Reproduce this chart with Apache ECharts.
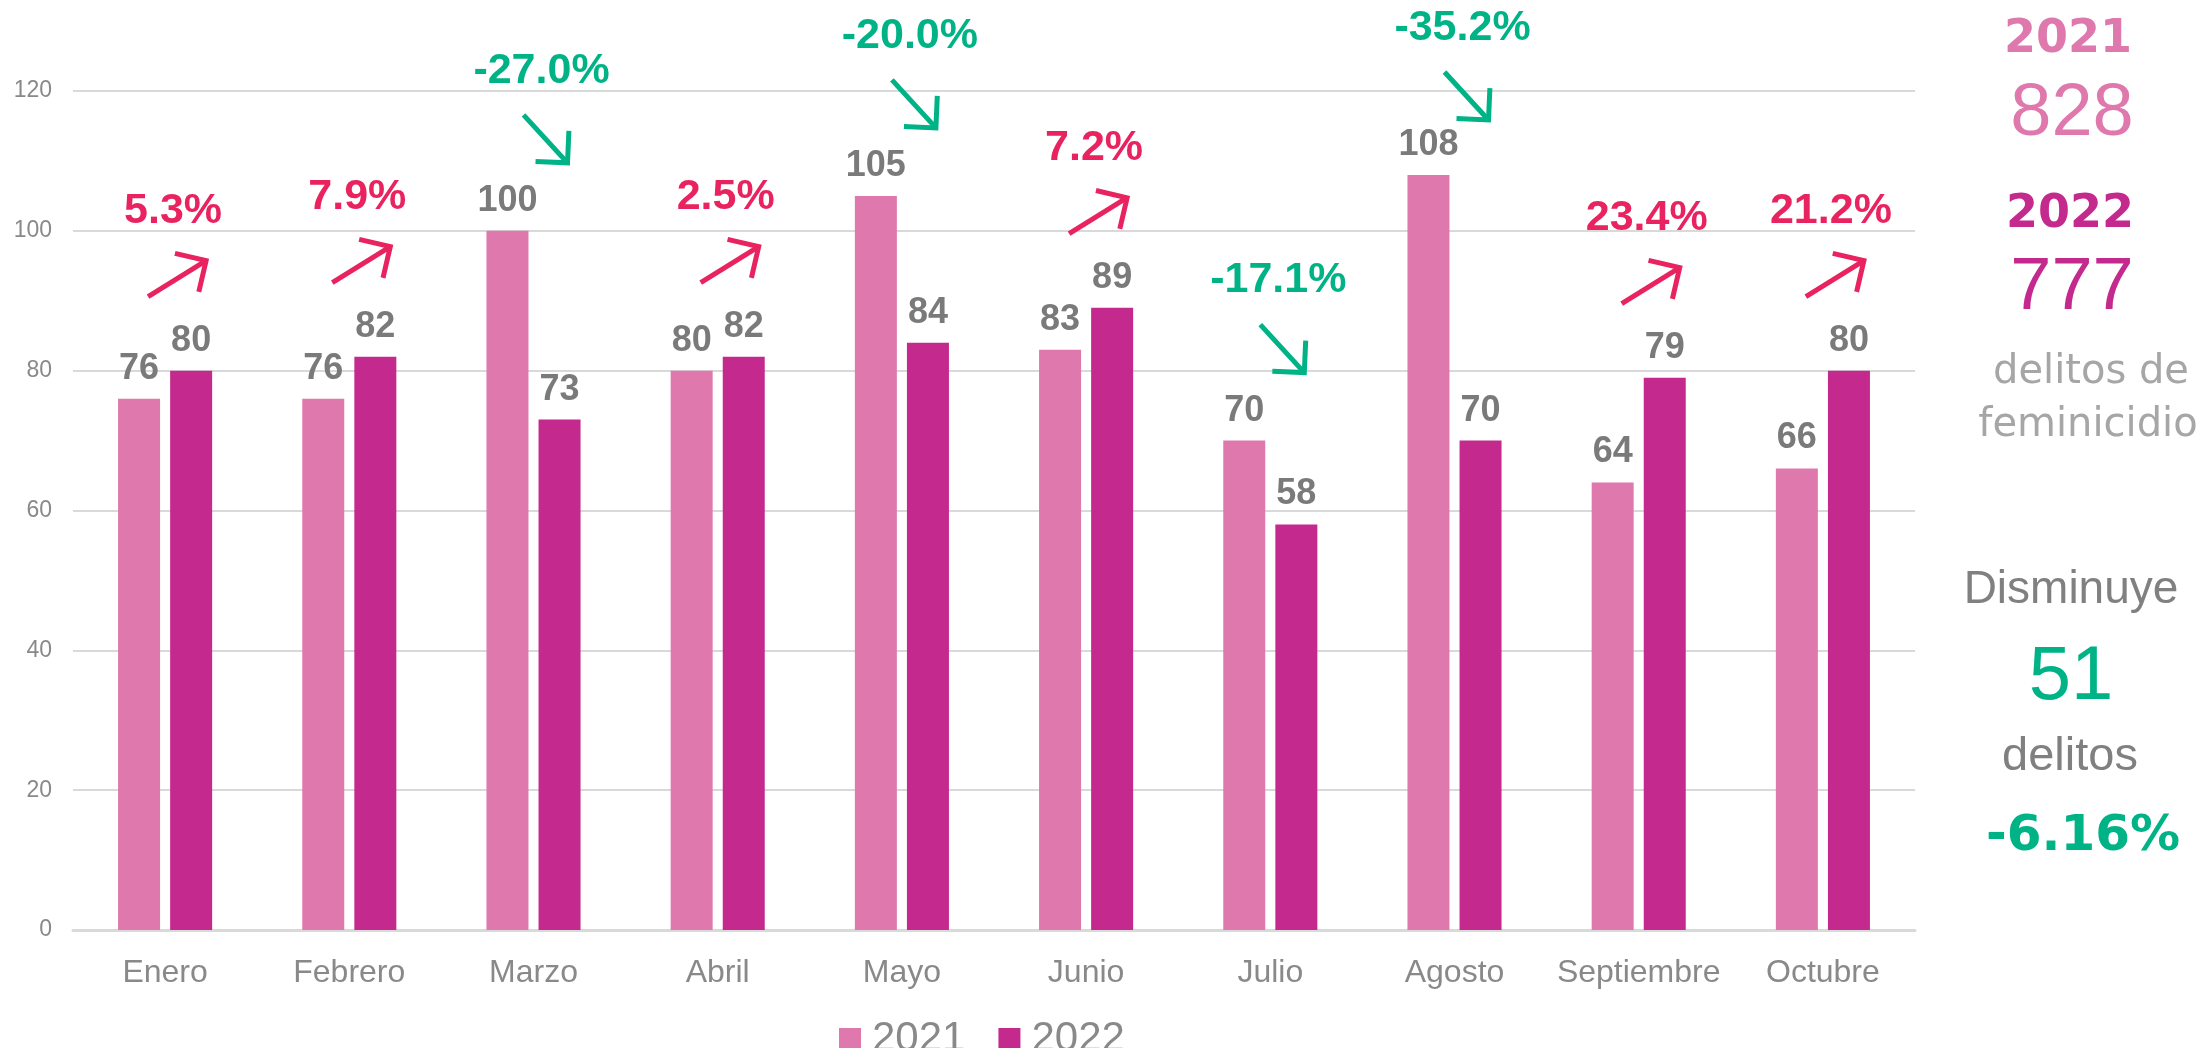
<!DOCTYPE html>
<html>
<head>
<meta charset="utf-8">
<script src="https://cdn.jsdelivr.net/npm/echarts@6/dist/echarts.min.js"></script>
<style>
	html, body { margin: 0; padding: 0; background: #fff; }
	#feminicidio_chart { width: 2207px; height: 1048px; }
</style>
</head>
<body>
<div id="feminicidio_chart"></div>
<script>
// datos
var meses = ['Enero', 'Febrero', 'Marzo', 'Abril', 'Mayo', 'Junio', 'Julio', 'Agosto', 'Septiembre', 'Octubre'];
var delitos2021 = [76, 76, 100, 80, 105, 83, 70, 108, 64, 66];
var delitos2022 = [80, 82, 73, 82, 84, 89, 58, 70, 79, 80];
var yTicks = [0, 20, 40, 60, 80, 100, 120];

var COLOR_2021 = '#DF79AD';
var COLOR_2022 = '#C4298E';
var COLOR_SUBE = '#E8235F';
var COLOR_BAJA = '#00B386';
var GRIS = '#898989';

var total2021 = delitos2021.reduce(function(a, b) { return a + b; }, 0);
var total2022 = delitos2022.reduce(function(a, b) { return a + b; }, 0);
var diferencia = total2021 - total2022;
var cambioTotal = (total2022 - total2021) / total2021 * 100;

// variacion mensual
var variacion = [];
for (var i = 0; i < meses.length; i++) {
	var pct = (delitos2022[i] - delitos2021[i]) / delitos2021[i] * 100;
	variacion.push([i, Math.max(delitos2021[i], delitos2022[i]), pct]);
}

var barLabel = {
	show : true,
	position : 'top',
	distance : 12,
	color : '#7a7a7a',
	fontSize : 36,
	fontWeight : 'bold',
	fontFamily : "'Liberation Sans Narrow', 'Arial Narrow', 'Liberation Sans', sans-serif"
};

function flecha(params, api) {
	var top = api.coord([api.value(0), api.value(1)]);
	var pct = api.value(2);
	var sube = pct >= 0;
	var color = sube ? COLOR_SUBE : COLOR_BAJA;
	var tx = top[0] + 8, ty = Math.max(top[1] - 160, 28);
	var ax = tx + 4, ay = ty + 68;
	var dx = sube ? 29 : 22, dy = sube ? -18 : 24;
	var p0 = [ax - dx, ay - dy], p1 = [ax + dx, ay + dy];
	var ang = Math.atan2(p1[1] - p0[1], p1[0] - p0[0]);
	var L = 32, abre = Math.PI / 4;
	var h1 = [p1[0] - L * Math.cos(ang - abre), p1[1] - L * Math.sin(ang - abre)];
	var h2 = [p1[0] - L * Math.cos(ang + abre), p1[1] - L * Math.sin(ang + abre)];
	return {
		type : 'group',
		children : [ {
			type : 'text',
			style : {
				text : pct.toFixed(1) + '%',
				x : tx,
				y : ty,
				fill : color,
				font : "bold 43px 'Liberation Sans', sans-serif",
				align : 'center',
				verticalAlign : 'middle'
			}
		}, {
			type : 'polyline',
			shape : { points : [ p0, p1 ] },
			style : { stroke : color, lineWidth : 5, fill : 'none', lineCap : 'butt' }
		}, {
			type : 'polyline',
			shape : { points : [ h1, p1, h2 ] },
			style : { stroke : color, lineWidth : 5, fill : 'none', lineCap : 'butt', lineJoin : 'miter' }
		} ]
	};
}

function texto(txt, x, y, font, color) {
	return {
		type : 'text',
		x : x,
		y : y,
		silent : true,
		style : {
			text : txt,
			font : font,
			fill : color,
			align : 'center',
			verticalAlign : 'middle'
		}
	};
}

var chart = echarts.init(document.getElementById('feminicidio_chart'));

chart.setOption({
	animation : false,
	grid : {
		left : 73,
		right : 292,
		top : 91,
		bottom : 118
	},
	legend : {
		data : [ '2021', '2022' ],
		left : 834,
		top : 1013,
		itemWidth : 22,
		itemHeight : 22,
		itemGap : 33,
		icon : 'rect',
		textStyle : {
			color : GRIS,
			fontSize : 42,
			fontFamily : "'Liberation Sans', sans-serif",
			padding : [ 0, 0, 0, 6 ]
		}
	},
	xAxis : {
		type : 'category',
		data : meses,
		axisTick : { show : false },
		axisLine : { lineStyle : { color : '#d9d9d9', width : 3 } },
		axisLabel : {
			interval : 0,
			color : GRIS,
			fontSize : 32,
			margin : 27,
			fontFamily : "'Liberation Sans', sans-serif"
		}
	},
	yAxis : {
		type : 'value',
		min : yTicks[0],
		max : yTicks[yTicks.length - 1],
		interval : yTicks[1] - yTicks[0],
		axisLine : { show : false },
		axisTick : { show : false },
		splitLine : { lineStyle : { color : '#d9d9d9', width : 2 } },
		axisLabel : {
			color : GRIS,
			fontSize : 23,
			margin : 21,
			fontFamily : "'Liberation Sans', sans-serif"
		}
	},
	series : [ {
		name : '2021',
		type : 'bar',
		data : delitos2021,
		barWidth : 42,
		barGap : '24%',
		itemStyle : { color : COLOR_2021 },
		label : barLabel
	}, {
		name : '2022',
		type : 'bar',
		data : delitos2022,
		barWidth : 42,
		itemStyle : { color : COLOR_2022 },
		label : barLabel
	}, {
		name : 'variacion',
		type : 'custom',
		data : variacion,
		encode : { x : 0, y : 1 },
		clip : false,
		silent : true,
		z : 10,
		renderItem : flecha
	} ],
	graphic : [
		texto('2021', 2068, 40, "bold 46px 'DejaVu Sans', sans-serif", COLOR_2021),
		texto(String(total2021), 2072, 115, "74px 'Liberation Sans', sans-serif", COLOR_2021),
		texto('2022', 2070, 215, "bold 46px 'DejaVu Sans', sans-serif", COLOR_2022),
		texto(String(total2022), 2072, 289, "74px 'Liberation Sans', sans-serif", COLOR_2022),
		texto('delitos de', 2091, 373, "40px 'DejaVu Sans', sans-serif", '#a6a6a6'),
		texto('feminicidio', 2088, 426, "40px 'DejaVu Sans', sans-serif", '#a6a6a6'),
		texto('Disminuye', 2071, 590, "46px 'Liberation Sans', sans-serif", '#808080'),
		texto(String(diferencia), 2071, 678, "76px 'Liberation Sans', sans-serif", COLOR_BAJA),
		texto('delitos', 2070, 757, "47px 'Liberation Sans', sans-serif", '#808080'),
		texto(cambioTotal.toFixed(2) + '%', 2083, 837, "bold 50px 'DejaVu Sans', sans-serif", COLOR_BAJA)
	]
});

window.addEventListener('resize', function() {
	chart.resize();
});
</script>
</body>
</html>
